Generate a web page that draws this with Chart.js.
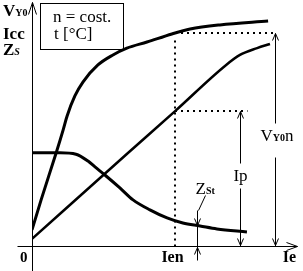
<!DOCTYPE html>
<html>
<head>
<meta charset="utf-8">
<script src="https://cdn.jsdelivr.net/npm/chart.js@4/dist/chart.umd.min.js"></script>
<style>
html, body { margin: 0; padding: 0; background: #fff; }
canvas { display: block; }
</style>
</head>
<body>
<canvas id="chart" width="303" height="271"></canvas>
<script>
// x: excitation current Ie (0..100 units), y: 0..100 units for all three curves
const vY0X = [0, 3.4, 9.0, 11.6, 13.1, 16.0, 19.0, 24.6, 30.2, 35.4, 42.9, 52.2, 59.0, 70.1, 88.1];
const vY0Y = [6.6, 18.9, 38.1, 47.5, 53.3, 61.5, 67.2, 74.2, 78.3, 81.1, 83.6, 86.9, 88.9, 90.6, 92.2];

const iccX = [0, 35.8, 53.4, 72.0, 77.6, 84.0, 88.8];
const iccY = [2.9, 38.1, 55.3, 73.8, 78.3, 81.1, 82.8];

const zsX = [0, 10.4, 16.4, 20.9, 23.5, 27.2, 32.8, 37.7, 44.0, 50.4, 56.3, 62.7, 69.0, 80.2];
const zsY = [38.2, 38.2, 37.6, 34.8, 32.4, 29.1, 23.8, 18.9, 14.8, 11.5, 9.4, 8.2, 7.0, 5.7];

// reading points
const ien = 53.4;      // nominal excitation current
const vY0n = 87.3;     // V_Y0 at Ien
const ipVal = 55.3;    // Icc at Ien
const vY0nX = 90.5;    // x of the V_Y0n arrow
const ipX = 77.6;      // x of the Ip arrow
const zStX = 61.6;     // x of the Z_St arrow
const zStVal = 8.6;

const serif = '"Liberation Serif", "Times New Roman", serif';

function pts(xs, ys) {
    return xs.map((x, i) => ({ x: x, y: ys[i] }));
}

function head(ctx, x, y, dx, dy, len, half) {
    // open arrow head, tip at (x, y), pointing along (dx, dy)
    ctx.beginPath();
    ctx.moveTo(x - dx * len - dy * half, y - dy * len + dx * half);
    ctx.lineTo(x, y);
    ctx.lineTo(x - dx * len + dy * half, y - dy * len - dx * half);
    ctx.stroke();
}

function vline(ctx, x, y1, y2) {
    ctx.beginPath();
    ctx.moveTo(x, y1);
    ctx.lineTo(x, y2);
    ctx.stroke();
}

function label(ctx, x, y, parts) {
    // parts: [text, font]
    parts.forEach(p => {
        ctx.font = p[1];
        ctx.fillText(p[0], x, y);
        x += ctx.measureText(p[0]).width;
    });
}

const annotations = {
    id: 'annotations',
    afterDatasetsDraw(chart) {
        const ctx = chart.ctx;
        const sx = chart.scales.x, sy = chart.scales.y;
        const X = v => Math.round(sx.getPixelForValue(v)) + 0.5;
        const Y = v => Math.round(sy.getPixelForValue(v)) + 0.5;
        ctx.save();
        ctx.strokeStyle = '#000';
        ctx.fillStyle = '#000';
        ctx.lineWidth = 1;

        // axes
        vline(ctx, X(0), Y(100), chart.height);
        head(ctx, X(0), Y(100), 0, -1, 12, 4);
        ctx.beginPath();
        ctx.moveTo(X(-5.6), Y(0));
        ctx.lineTo(X(99), Y(0));
        ctx.stroke();
        head(ctx, X(99), Y(0), 1, 0, 11, 4);

        // dotted guides
        ctx.lineWidth = 2;
        ctx.setLineDash([2, 4]);
        const ix = Math.round(sx.getPixelForValue(ien));
        const vy = Math.round(sy.getPixelForValue(vY0n));
        const iy = Math.round(sy.getPixelForValue(ipVal));
        ctx.beginPath();
        ctx.moveTo(ix, Y(84.4));
        ctx.lineTo(ix, Y(0));
        ctx.moveTo(ix, vy);
        ctx.lineTo(X(vY0nX) + 1, vy);
        ctx.moveTo(ix, iy);
        ctx.lineTo(X(80.2), iy);
        ctx.stroke();
        ctx.setLineDash([]);
        ctx.lineWidth = 1;

        // V_Y0n arrow
        vline(ctx, X(vY0nX), Y(vY0n), Y(50.4));
        vline(ctx, X(vY0nX), Y(36.5), Y(0));
        head(ctx, X(vY0nX), Y(vY0n), 0, -1, 7, 3);
        head(ctx, X(vY0nX), Y(0) - 1, 0, 1, 7, 3);

        // Ip arrow
        vline(ctx, X(ipX), Y(ipVal), Y(34.0));
        vline(ctx, X(ipX), Y(23.8), Y(0));
        head(ctx, X(ipX), Y(ipVal), 0, -1, 7, 3);
        head(ctx, X(ipX), Y(0) - 1, 0, 1, 7, 3);

        // Z_St arrow
        vline(ctx, X(zStX), Y(14.8), Y(-5.8));
        head(ctx, X(zStX), Y(zStVal), 0, 1, 7, 3);
        head(ctx, X(zStX), Y(0) + 1, 0, -1, 7, 3);
        ctx.beginPath();
        ctx.moveTo(X(zStX) + 8, Y(20.9));
        ctx.lineTo(X(zStX) + 1, Y(14.8));
        ctx.stroke();

        // box
        ctx.strokeRect(40.5, 3.5, 83, 46);
        ctx.font = '17px ' + serif;
        ctx.fillText('n = cost.', 53, 22);
        ctx.fillText('t [°C]', 54, 39);

        // axis labels
        const b17 = 'bold 17px ' + serif;
        const b10 = 'bold 10px ' + serif;
        label(ctx, 3, 16, [['V', b17], ['Y0', b10]]);
        label(ctx, 3, 39, [['Icc', b17]]);
        label(ctx, 3, 55, [['Z', b17], ['S', 'bold italic 10px ' + serif]]);
        ctx.font = 'bold 15px ' + serif;
        ctx.fillText('0', 20, 262);
        ctx.font = 'bold 16px ' + serif;
        ctx.textAlign = 'center';
        ctx.fillText('Ien', X(ien) - 3, 262);
        ctx.fillText('Ie', X(99) - 8, 262);
        ctx.textAlign = 'left';

        // arrow labels
        const r17 = '17px ' + serif;
        label(ctx, X(vY0nX) - 15, Y(43.4), [['V', r17], ['Y0', b10], ['n', r17]]);
        ctx.font = r17;
        ctx.textAlign = 'center';
        ctx.fillText('Ip', X(ipX), Y(27.0));
        ctx.textAlign = 'left';
        label(ctx, X(zStX) - 2, Y(21.7), [['Z', r17], ['St', b10]]);
        ctx.restore();
    }
};

new Chart(document.getElementById('chart'), {
    type: 'line',
    data: {
        datasets: [
            { label: 'VY0', data: pts(vY0X, vY0Y), borderColor: '#000', borderWidth: 3 },
            { label: 'Icc', data: pts(iccX, iccY), borderColor: '#000', borderWidth: 2.5 },
            { label: 'Zs', data: pts(zsX, zsY), borderColor: '#000', borderWidth: 3 }
        ]
    },
    options: {
        responsive: false,
        animation: false,
        layout: { padding: { left: 32, right: 3, top: 2, bottom: 25 } },
        datasets: {
            line: {
                cubicInterpolationMode: 'monotone',
                pointRadius: 0,
                fill: false
            }
        },
        plugins: {
            colors: { enabled: false },
            legend: { display: false },
            tooltip: { enabled: false }
        },
        scales: {
            x: { type: 'linear', min: 0, max: 100, display: false },
            y: { type: 'linear', min: 0, max: 100, display: false }
        }
    },
    plugins: [annotations]
});
</script>
</body>
</html>
